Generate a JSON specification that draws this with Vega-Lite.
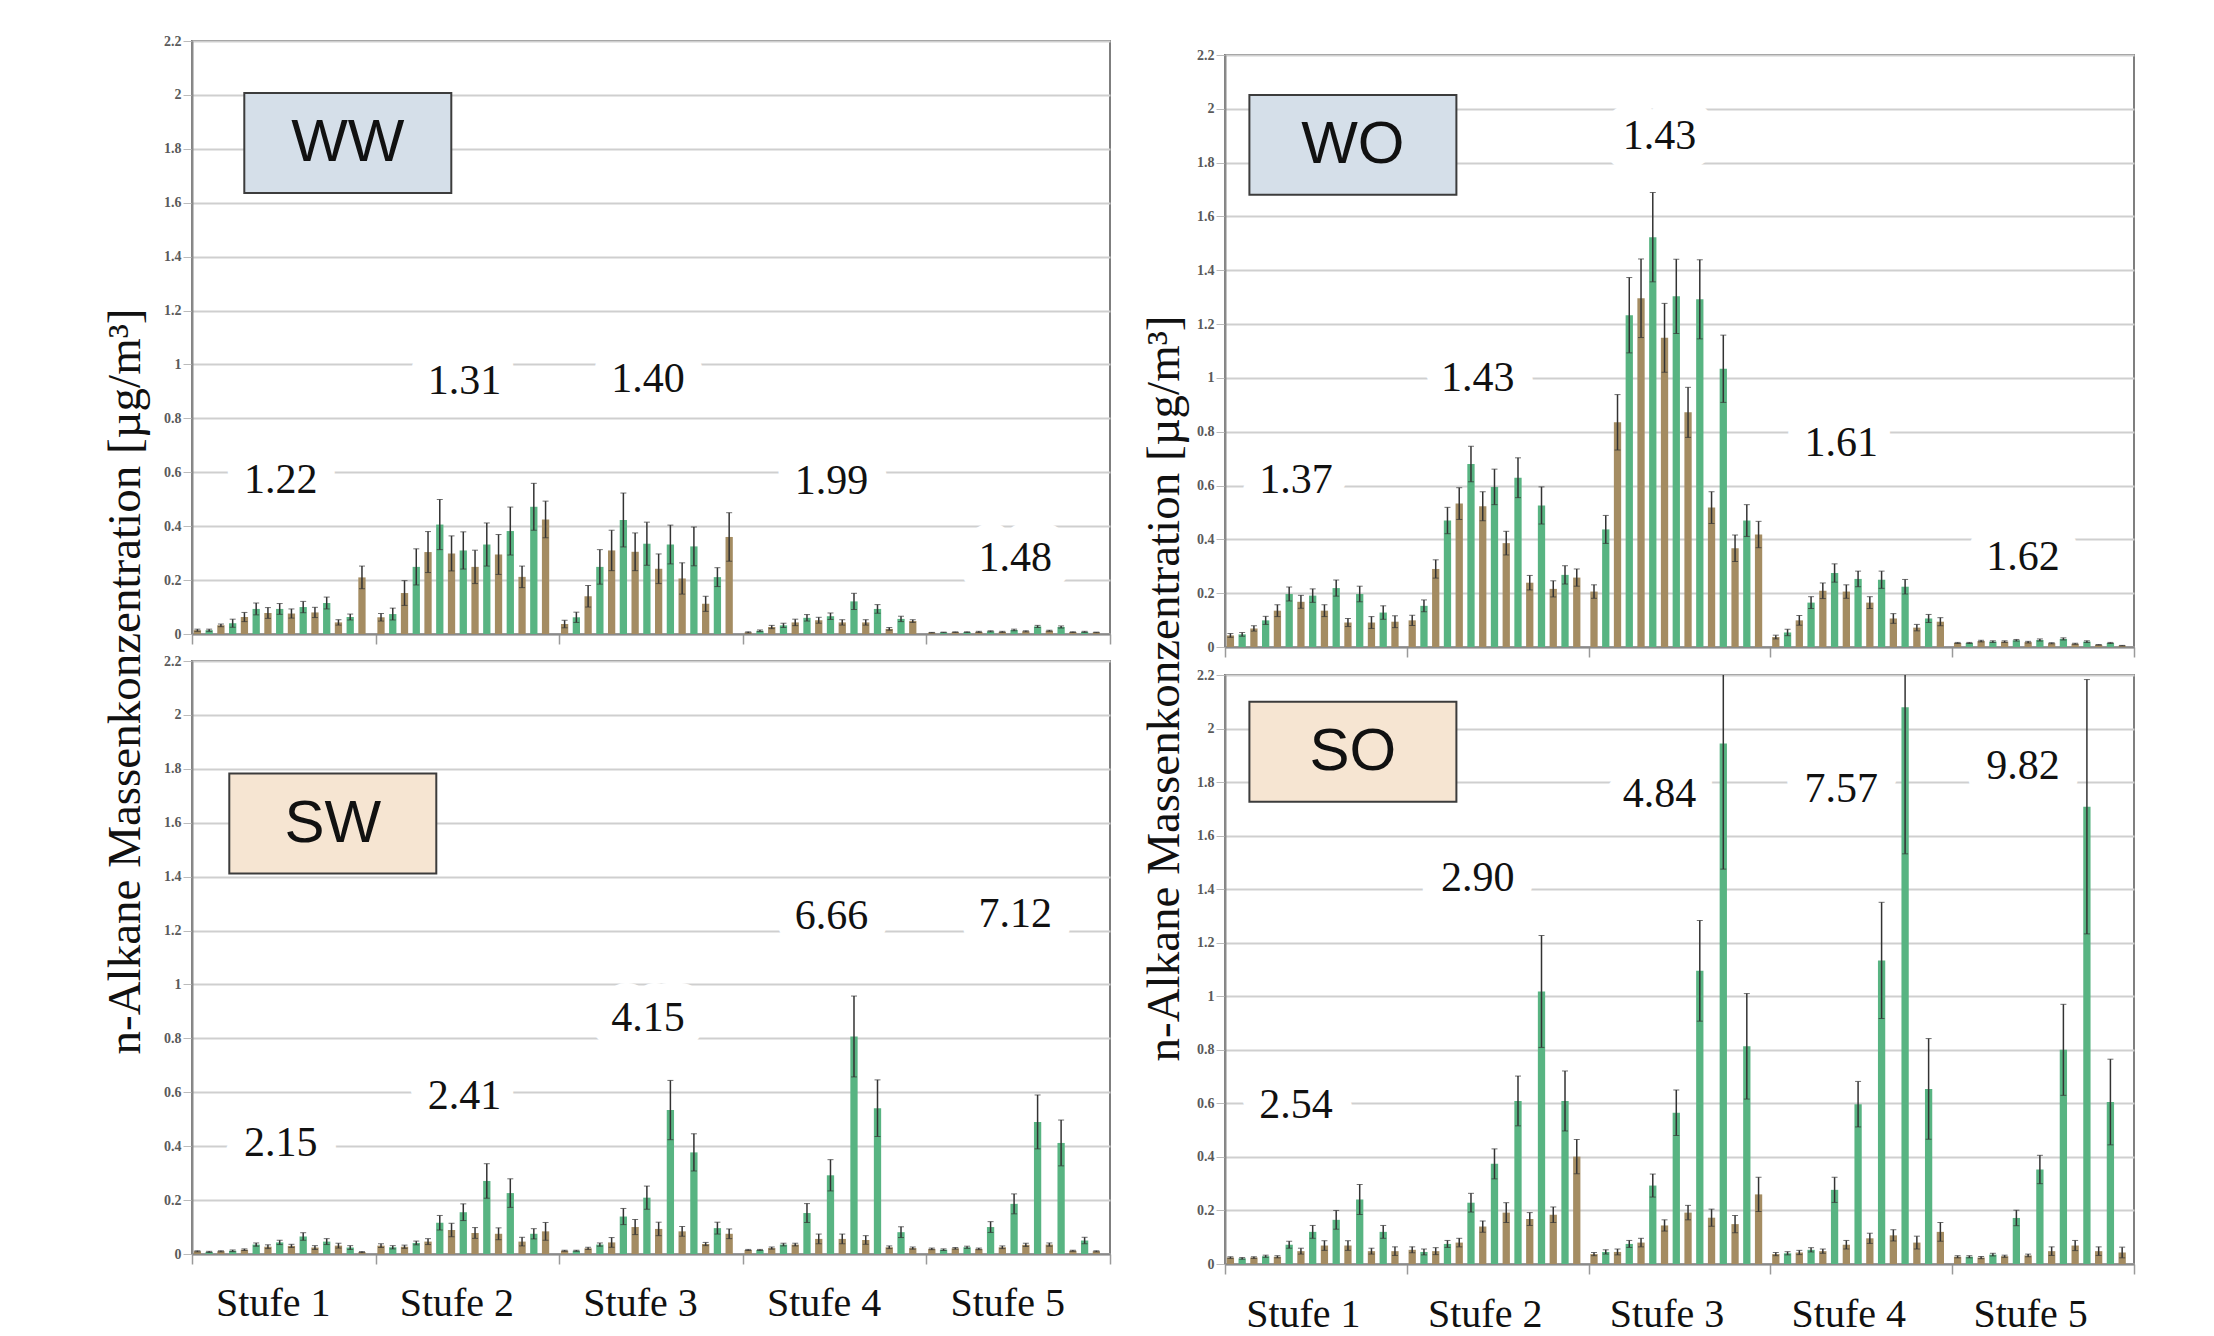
{
  "$schema": "https://vega.github.io/schema/vega-lite/v6.json",
  "padding": {"left": 100, "top": 5, "right": 10, "bottom": 5},
  "spacing": 27,
  "config": {
    "view": {"stroke": "#7f7f7f", "strokeWidth": 2}
  },
  "datasets": {
    "alkanes": [
      {"panel":"WW","Stufe":"Stufe 1","C":18,"value":0.014,"sd":0.004},{"panel":"WW","Stufe":"Stufe 1","C":19,"value":0.014,"sd":0.004},{"panel":"WW","Stufe":"Stufe 1","C":20,"value":0.032,"sd":0.005},{"panel":"WW","Stufe":"Stufe 1","C":21,"value":0.04,"sd":0.015},{"panel":"WW","Stufe":"Stufe 1","C":22,"value":0.063,"sd":0.017},{"panel":"WW","Stufe":"Stufe 1","C":23,"value":0.093,"sd":0.022},{"panel":"WW","Stufe":"Stufe 1","C":24,"value":0.078,"sd":0.02},{"panel":"WW","Stufe":"Stufe 1","C":25,"value":0.093,"sd":0.02},{"panel":"WW","Stufe":"Stufe 1","C":26,"value":0.076,"sd":0.017},{"panel":"WW","Stufe":"Stufe 1","C":27,"value":0.1,"sd":0.021},{"panel":"WW","Stufe":"Stufe 1","C":28,"value":0.08,"sd":0.019},{"panel":"WW","Stufe":"Stufe 1","C":29,"value":0.115,"sd":0.022},{"panel":"WW","Stufe":"Stufe 1","C":30,"value":0.043,"sd":0.01},{"panel":"WW","Stufe":"Stufe 1","C":31,"value":0.063,"sd":0.011},{"panel":"WW","Stufe":"Stufe 1","C":32,"value":0.21,"sd":0.042},
      {"panel":"WW","Stufe":"Stufe 2","C":18,"value":0.062,"sd":0.014},{"panel":"WW","Stufe":"Stufe 2","C":19,"value":0.074,"sd":0.022},{"panel":"WW","Stufe":"Stufe 2","C":20,"value":0.152,"sd":0.046},{"panel":"WW","Stufe":"Stufe 2","C":21,"value":0.249,"sd":0.067},{"panel":"WW","Stufe":"Stufe 2","C":22,"value":0.304,"sd":0.076},{"panel":"WW","Stufe":"Stufe 2","C":23,"value":0.406,"sd":0.093},{"panel":"WW","Stufe":"Stufe 2","C":24,"value":0.299,"sd":0.065},{"panel":"WW","Stufe":"Stufe 2","C":25,"value":0.31,"sd":0.069},{"panel":"WW","Stufe":"Stufe 2","C":26,"value":0.249,"sd":0.062},{"panel":"WW","Stufe":"Stufe 2","C":27,"value":0.332,"sd":0.08},{"panel":"WW","Stufe":"Stufe 2","C":28,"value":0.295,"sd":0.074},{"panel":"WW","Stufe":"Stufe 2","C":29,"value":0.382,"sd":0.089},{"panel":"WW","Stufe":"Stufe 2","C":30,"value":0.212,"sd":0.04},{"panel":"WW","Stufe":"Stufe 2","C":31,"value":0.472,"sd":0.087},{"panel":"WW","Stufe":"Stufe 2","C":32,"value":0.425,"sd":0.068},
      {"panel":"WW","Stufe":"Stufe 3","C":18,"value":0.037,"sd":0.014},{"panel":"WW","Stufe":"Stufe 3","C":19,"value":0.062,"sd":0.019},{"panel":"WW","Stufe":"Stufe 3","C":20,"value":0.14,"sd":0.04},{"panel":"WW","Stufe":"Stufe 3","C":21,"value":0.249,"sd":0.064},{"panel":"WW","Stufe":"Stufe 3","C":22,"value":0.31,"sd":0.075},{"panel":"WW","Stufe":"Stufe 3","C":23,"value":0.423,"sd":0.1},{"panel":"WW","Stufe":"Stufe 3","C":24,"value":0.305,"sd":0.07},{"panel":"WW","Stufe":"Stufe 3","C":25,"value":0.335,"sd":0.08},{"panel":"WW","Stufe":"Stufe 3","C":26,"value":0.242,"sd":0.055},{"panel":"WW","Stufe":"Stufe 3","C":27,"value":0.332,"sd":0.072},{"panel":"WW","Stufe":"Stufe 3","C":28,"value":0.206,"sd":0.058},{"panel":"WW","Stufe":"Stufe 3","C":29,"value":0.325,"sd":0.072},{"panel":"WW","Stufe":"Stufe 3","C":30,"value":0.112,"sd":0.028},{"panel":"WW","Stufe":"Stufe 3","C":31,"value":0.211,"sd":0.035},{"panel":"WW","Stufe":"Stufe 3","C":32,"value":0.36,"sd":0.09},
      {"panel":"WW","Stufe":"Stufe 4","C":18,"value":0.006,"sd":0.002},{"panel":"WW","Stufe":"Stufe 4","C":19,"value":0.012,"sd":0.003},{"panel":"WW","Stufe":"Stufe 4","C":20,"value":0.026,"sd":0.006},{"panel":"WW","Stufe":"Stufe 4","C":21,"value":0.032,"sd":0.008},{"panel":"WW","Stufe":"Stufe 4","C":22,"value":0.043,"sd":0.012},{"panel":"WW","Stufe":"Stufe 4","C":23,"value":0.06,"sd":0.012},{"panel":"WW","Stufe":"Stufe 4","C":24,"value":0.051,"sd":0.011},{"panel":"WW","Stufe":"Stufe 4","C":25,"value":0.066,"sd":0.012},{"panel":"WW","Stufe":"Stufe 4","C":26,"value":0.043,"sd":0.01},{"panel":"WW","Stufe":"Stufe 4","C":27,"value":0.121,"sd":0.03},{"panel":"WW","Stufe":"Stufe 4","C":28,"value":0.043,"sd":0.01},{"panel":"WW","Stufe":"Stufe 4","C":29,"value":0.093,"sd":0.016},{"panel":"WW","Stufe":"Stufe 4","C":30,"value":0.019,"sd":0.005},{"panel":"WW","Stufe":"Stufe 4","C":31,"value":0.056,"sd":0.01},{"panel":"WW","Stufe":"Stufe 4","C":32,"value":0.048,"sd":0.005},
      {"panel":"WW","Stufe":"Stufe 5","C":18,"value":0.005,"sd":0.001},{"panel":"WW","Stufe":"Stufe 5","C":19,"value":0.006,"sd":0.001},{"panel":"WW","Stufe":"Stufe 5","C":20,"value":0.007,"sd":0.001},{"panel":"WW","Stufe":"Stufe 5","C":21,"value":0.007,"sd":0.001},{"panel":"WW","Stufe":"Stufe 5","C":22,"value":0.008,"sd":0.002},{"panel":"WW","Stufe":"Stufe 5","C":23,"value":0.01,"sd":0.002},{"panel":"WW","Stufe":"Stufe 5","C":24,"value":0.008,"sd":0.002},{"panel":"WW","Stufe":"Stufe 5","C":25,"value":0.015,"sd":0.003},{"panel":"WW","Stufe":"Stufe 5","C":26,"value":0.01,"sd":0.002},{"panel":"WW","Stufe":"Stufe 5","C":27,"value":0.028,"sd":0.004},{"panel":"WW","Stufe":"Stufe 5","C":28,"value":0.012,"sd":0.002},{"panel":"WW","Stufe":"Stufe 5","C":29,"value":0.026,"sd":0.004},{"panel":"WW","Stufe":"Stufe 5","C":30,"value":0.007,"sd":0.001},{"panel":"WW","Stufe":"Stufe 5","C":31,"value":0.008,"sd":0.002},{"panel":"WW","Stufe":"Stufe 5","C":32,"value":0.006,"sd":0.001},

      {"panel":"SW","Stufe":"Stufe 1","C":18,"value":0.01,"sd":0.002},{"panel":"SW","Stufe":"Stufe 1","C":19,"value":0.008,"sd":0.002},{"panel":"SW","Stufe":"Stufe 1","C":20,"value":0.01,"sd":0.002},{"panel":"SW","Stufe":"Stufe 1","C":21,"value":0.012,"sd":0.003},{"panel":"SW","Stufe":"Stufe 1","C":22,"value":0.016,"sd":0.003},{"panel":"SW","Stufe":"Stufe 1","C":23,"value":0.035,"sd":0.006},{"panel":"SW","Stufe":"Stufe 1","C":24,"value":0.027,"sd":0.007},{"panel":"SW","Stufe":"Stufe 1","C":25,"value":0.043,"sd":0.008},{"panel":"SW","Stufe":"Stufe 1","C":26,"value":0.03,"sd":0.006},{"panel":"SW","Stufe":"Stufe 1","C":27,"value":0.065,"sd":0.014},{"panel":"SW","Stufe":"Stufe 1","C":28,"value":0.024,"sd":0.007},{"panel":"SW","Stufe":"Stufe 1","C":29,"value":0.046,"sd":0.011},{"panel":"SW","Stufe":"Stufe 1","C":30,"value":0.031,"sd":0.009},{"panel":"SW","Stufe":"Stufe 1","C":31,"value":0.024,"sd":0.007},{"panel":"SW","Stufe":"Stufe 1","C":32,"value":0.007,"sd":0.002},
      {"panel":"SW","Stufe":"Stufe 2","C":18,"value":0.031,"sd":0.007},{"panel":"SW","Stufe":"Stufe 2","C":19,"value":0.025,"sd":0.006},{"panel":"SW","Stufe":"Stufe 2","C":20,"value":0.027,"sd":0.006},{"panel":"SW","Stufe":"Stufe 2","C":21,"value":0.041,"sd":0.007},{"panel":"SW","Stufe":"Stufe 2","C":22,"value":0.046,"sd":0.011},{"panel":"SW","Stufe":"Stufe 2","C":23,"value":0.116,"sd":0.027},{"panel":"SW","Stufe":"Stufe 2","C":24,"value":0.089,"sd":0.025},{"panel":"SW","Stufe":"Stufe 2","C":25,"value":0.155,"sd":0.031},{"panel":"SW","Stufe":"Stufe 2","C":26,"value":0.078,"sd":0.02},{"panel":"SW","Stufe":"Stufe 2","C":27,"value":0.271,"sd":0.064},{"panel":"SW","Stufe":"Stufe 2","C":28,"value":0.075,"sd":0.022},{"panel":"SW","Stufe":"Stufe 2","C":29,"value":0.226,"sd":0.053},{"panel":"SW","Stufe":"Stufe 2","C":30,"value":0.046,"sd":0.016},{"panel":"SW","Stufe":"Stufe 2","C":31,"value":0.075,"sd":0.019},{"panel":"SW","Stufe":"Stufe 2","C":32,"value":0.084,"sd":0.033},
      {"panel":"SW","Stufe":"Stufe 3","C":18,"value":0.012,"sd":0.002},{"panel":"SW","Stufe":"Stufe 3","C":19,"value":0.012,"sd":0.002},{"panel":"SW","Stufe":"Stufe 3","C":20,"value":0.021,"sd":0.004},{"panel":"SW","Stufe":"Stufe 3","C":21,"value":0.035,"sd":0.006},{"panel":"SW","Stufe":"Stufe 3","C":22,"value":0.043,"sd":0.018},{"panel":"SW","Stufe":"Stufe 3","C":23,"value":0.139,"sd":0.03},{"panel":"SW","Stufe":"Stufe 3","C":24,"value":0.1,"sd":0.028},{"panel":"SW","Stufe":"Stufe 3","C":25,"value":0.209,"sd":0.043},{"panel":"SW","Stufe":"Stufe 3","C":26,"value":0.093,"sd":0.025},{"panel":"SW","Stufe":"Stufe 3","C":27,"value":0.534,"sd":0.11},{"panel":"SW","Stufe":"Stufe 3","C":28,"value":0.084,"sd":0.018},{"panel":"SW","Stufe":"Stufe 3","C":29,"value":0.377,"sd":0.069},{"panel":"SW","Stufe":"Stufe 3","C":30,"value":0.037,"sd":0.006},{"panel":"SW","Stufe":"Stufe 3","C":31,"value":0.096,"sd":0.022},{"panel":"SW","Stufe":"Stufe 3","C":32,"value":0.075,"sd":0.018},
      {"panel":"SW","Stufe":"Stufe 4","C":18,"value":0.015,"sd":0.002},{"panel":"SW","Stufe":"Stufe 4","C":19,"value":0.015,"sd":0.002},{"panel":"SW","Stufe":"Stufe 4","C":20,"value":0.022,"sd":0.004},{"panel":"SW","Stufe":"Stufe 4","C":21,"value":0.035,"sd":0.005},{"panel":"SW","Stufe":"Stufe 4","C":22,"value":0.035,"sd":0.005},{"panel":"SW","Stufe":"Stufe 4","C":23,"value":0.152,"sd":0.035},{"panel":"SW","Stufe":"Stufe 4","C":24,"value":0.056,"sd":0.018},{"panel":"SW","Stufe":"Stufe 4","C":25,"value":0.292,"sd":0.058},{"panel":"SW","Stufe":"Stufe 4","C":26,"value":0.056,"sd":0.018},{"panel":"SW","Stufe":"Stufe 4","C":27,"value":0.807,"sd":0.15},{"panel":"SW","Stufe":"Stufe 4","C":28,"value":0.052,"sd":0.016},{"panel":"SW","Stufe":"Stufe 4","C":29,"value":0.541,"sd":0.105},{"panel":"SW","Stufe":"Stufe 4","C":30,"value":0.025,"sd":0.005},{"panel":"SW","Stufe":"Stufe 4","C":31,"value":0.081,"sd":0.02},{"panel":"SW","Stufe":"Stufe 4","C":32,"value":0.022,"sd":0.004},
      {"panel":"SW","Stufe":"Stufe 5","C":18,"value":0.019,"sd":0.003},{"panel":"SW","Stufe":"Stufe 5","C":19,"value":0.016,"sd":0.003},{"panel":"SW","Stufe":"Stufe 5","C":20,"value":0.021,"sd":0.003},{"panel":"SW","Stufe":"Stufe 5","C":21,"value":0.025,"sd":0.004},{"panel":"SW","Stufe":"Stufe 5","C":22,"value":0.019,"sd":0.003},{"panel":"SW","Stufe":"Stufe 5","C":23,"value":0.1,"sd":0.02},{"panel":"SW","Stufe":"Stufe 5","C":24,"value":0.025,"sd":0.005},{"panel":"SW","Stufe":"Stufe 5","C":25,"value":0.186,"sd":0.037},{"panel":"SW","Stufe":"Stufe 5","C":26,"value":0.034,"sd":0.006},{"panel":"SW","Stufe":"Stufe 5","C":27,"value":0.49,"sd":0.1},{"panel":"SW","Stufe":"Stufe 5","C":28,"value":0.035,"sd":0.006},{"panel":"SW","Stufe":"Stufe 5","C":29,"value":0.412,"sd":0.085},{"panel":"SW","Stufe":"Stufe 5","C":30,"value":0.012,"sd":0.002},{"panel":"SW","Stufe":"Stufe 5","C":31,"value":0.05,"sd":0.012},{"panel":"SW","Stufe":"Stufe 5","C":32,"value":0.01,"sd":0.002},

      {"panel":"WO","Stufe":"Stufe 1","C":18,"value":0.043,"sd":0.007},{"panel":"WO","Stufe":"Stufe 1","C":19,"value":0.047,"sd":0.007},{"panel":"WO","Stufe":"Stufe 1","C":20,"value":0.069,"sd":0.01},{"panel":"WO","Stufe":"Stufe 1","C":21,"value":0.099,"sd":0.015},{"panel":"WO","Stufe":"Stufe 1","C":22,"value":0.135,"sd":0.022},{"panel":"WO","Stufe":"Stufe 1","C":23,"value":0.197,"sd":0.026},{"panel":"WO","Stufe":"Stufe 1","C":24,"value":0.168,"sd":0.024},{"panel":"WO","Stufe":"Stufe 1","C":25,"value":0.191,"sd":0.025},{"panel":"WO","Stufe":"Stufe 1","C":26,"value":0.135,"sd":0.022},{"panel":"WO","Stufe":"Stufe 1","C":27,"value":0.219,"sd":0.03},{"panel":"WO","Stufe":"Stufe 1","C":28,"value":0.091,"sd":0.015},{"panel":"WO","Stufe":"Stufe 1","C":29,"value":0.197,"sd":0.029},{"panel":"WO","Stufe":"Stufe 1","C":30,"value":0.091,"sd":0.022},{"panel":"WO","Stufe":"Stufe 1","C":31,"value":0.128,"sd":0.025},{"panel":"WO","Stufe":"Stufe 1","C":32,"value":0.094,"sd":0.022},
      {"panel":"WO","Stufe":"Stufe 2","C":18,"value":0.099,"sd":0.019},{"panel":"WO","Stufe":"Stufe 2","C":19,"value":0.153,"sd":0.022},{"panel":"WO","Stufe":"Stufe 2","C":20,"value":0.29,"sd":0.034},{"panel":"WO","Stufe":"Stufe 2","C":21,"value":0.47,"sd":0.049},{"panel":"WO","Stufe":"Stufe 2","C":22,"value":0.533,"sd":0.059},{"panel":"WO","Stufe":"Stufe 2","C":23,"value":0.68,"sd":0.066},{"panel":"WO","Stufe":"Stufe 2","C":24,"value":0.523,"sd":0.054},{"panel":"WO","Stufe":"Stufe 2","C":25,"value":0.595,"sd":0.066},{"panel":"WO","Stufe":"Stufe 2","C":26,"value":0.386,"sd":0.044},{"panel":"WO","Stufe":"Stufe 2","C":27,"value":0.629,"sd":0.074},{"panel":"WO","Stufe":"Stufe 2","C":28,"value":0.239,"sd":0.027},{"panel":"WO","Stufe":"Stufe 2","C":29,"value":0.526,"sd":0.069},{"panel":"WO","Stufe":"Stufe 2","C":30,"value":0.216,"sd":0.03},{"panel":"WO","Stufe":"Stufe 2","C":31,"value":0.268,"sd":0.034},{"panel":"WO","Stufe":"Stufe 2","C":32,"value":0.258,"sd":0.032},
      {"panel":"WO","Stufe":"Stufe 3","C":18,"value":0.206,"sd":0.025},{"panel":"WO","Stufe":"Stufe 3","C":19,"value":0.437,"sd":0.052},{"panel":"WO","Stufe":"Stufe 3","C":20,"value":0.835,"sd":0.103},{"panel":"WO","Stufe":"Stufe 3","C":21,"value":1.233,"sd":0.14},{"panel":"WO","Stufe":"Stufe 3","C":22,"value":1.296,"sd":0.146},{"panel":"WO","Stufe":"Stufe 3","C":23,"value":1.523,"sd":0.166},{"panel":"WO","Stufe":"Stufe 3","C":24,"value":1.149,"sd":0.128},{"panel":"WO","Stufe":"Stufe 3","C":25,"value":1.303,"sd":0.138},{"panel":"WO","Stufe":"Stufe 3","C":26,"value":0.872,"sd":0.093},{"panel":"WO","Stufe":"Stufe 3","C":27,"value":1.292,"sd":0.147},{"panel":"WO","Stufe":"Stufe 3","C":28,"value":0.518,"sd":0.059},{"panel":"WO","Stufe":"Stufe 3","C":29,"value":1.034,"sd":0.125},{"panel":"WO","Stufe":"Stufe 3","C":30,"value":0.367,"sd":0.049},{"panel":"WO","Stufe":"Stufe 3","C":31,"value":0.47,"sd":0.059},{"panel":"WO","Stufe":"Stufe 3","C":32,"value":0.418,"sd":0.049},
      {"panel":"WO","Stufe":"Stufe 4","C":18,"value":0.037,"sd":0.007},{"panel":"WO","Stufe":"Stufe 4","C":19,"value":0.054,"sd":0.012},{"panel":"WO","Stufe":"Stufe 4","C":20,"value":0.099,"sd":0.018},{"panel":"WO","Stufe":"Stufe 4","C":21,"value":0.165,"sd":0.022},{"panel":"WO","Stufe":"Stufe 4","C":22,"value":0.209,"sd":0.029},{"panel":"WO","Stufe":"Stufe 4","C":23,"value":0.275,"sd":0.034},{"panel":"WO","Stufe":"Stufe 4","C":24,"value":0.206,"sd":0.025},{"panel":"WO","Stufe":"Stufe 4","C":25,"value":0.253,"sd":0.029},{"panel":"WO","Stufe":"Stufe 4","C":26,"value":0.165,"sd":0.022},{"panel":"WO","Stufe":"Stufe 4","C":27,"value":0.25,"sd":0.032},{"panel":"WO","Stufe":"Stufe 4","C":28,"value":0.106,"sd":0.018},{"panel":"WO","Stufe":"Stufe 4","C":29,"value":0.224,"sd":0.027},{"panel":"WO","Stufe":"Stufe 4","C":30,"value":0.072,"sd":0.012},{"panel":"WO","Stufe":"Stufe 4","C":31,"value":0.106,"sd":0.015},{"panel":"WO","Stufe":"Stufe 4","C":32,"value":0.094,"sd":0.015},
      {"panel":"WO","Stufe":"Stufe 5","C":18,"value":0.015,"sd":0.002},{"panel":"WO","Stufe":"Stufe 5","C":19,"value":0.015,"sd":0.002},{"panel":"WO","Stufe":"Stufe 5","C":20,"value":0.022,"sd":0.003},{"panel":"WO","Stufe":"Stufe 5","C":21,"value":0.02,"sd":0.003},{"panel":"WO","Stufe":"Stufe 5","C":22,"value":0.02,"sd":0.003},{"panel":"WO","Stufe":"Stufe 5","C":23,"value":0.025,"sd":0.003},{"panel":"WO","Stufe":"Stufe 5","C":24,"value":0.018,"sd":0.003},{"panel":"WO","Stufe":"Stufe 5","C":25,"value":0.026,"sd":0.004},{"panel":"WO","Stufe":"Stufe 5","C":26,"value":0.014,"sd":0.002},{"panel":"WO","Stufe":"Stufe 5","C":27,"value":0.03,"sd":0.004},{"panel":"WO","Stufe":"Stufe 5","C":28,"value":0.012,"sd":0.002},{"panel":"WO","Stufe":"Stufe 5","C":29,"value":0.02,"sd":0.003},{"panel":"WO","Stufe":"Stufe 5","C":30,"value":0.008,"sd":0.001},{"panel":"WO","Stufe":"Stufe 5","C":31,"value":0.015,"sd":0.002},{"panel":"WO","Stufe":"Stufe 5","C":32,"value":0.005,"sd":0.001},

      {"panel":"SO","Stufe":"Stufe 1","C":18,"value":0.024,"sd":0.003},{"panel":"SO","Stufe":"Stufe 1","C":19,"value":0.021,"sd":0.003},{"panel":"SO","Stufe":"Stufe 1","C":20,"value":0.024,"sd":0.003},{"panel":"SO","Stufe":"Stufe 1","C":21,"value":0.029,"sd":0.004},{"panel":"SO","Stufe":"Stufe 1","C":22,"value":0.027,"sd":0.004},{"panel":"SO","Stufe":"Stufe 1","C":23,"value":0.072,"sd":0.013},{"panel":"SO","Stufe":"Stufe 1","C":24,"value":0.048,"sd":0.011},{"panel":"SO","Stufe":"Stufe 1","C":25,"value":0.12,"sd":0.024},{"panel":"SO","Stufe":"Stufe 1","C":26,"value":0.069,"sd":0.018},{"panel":"SO","Stufe":"Stufe 1","C":27,"value":0.165,"sd":0.035},{"panel":"SO","Stufe":"Stufe 1","C":28,"value":0.069,"sd":0.018},{"panel":"SO","Stufe":"Stufe 1","C":29,"value":0.241,"sd":0.056},{"panel":"SO","Stufe":"Stufe 1","C":30,"value":0.048,"sd":0.011},{"panel":"SO","Stufe":"Stufe 1","C":31,"value":0.12,"sd":0.024},{"panel":"SO","Stufe":"Stufe 1","C":32,"value":0.048,"sd":0.016},
      {"panel":"SO","Stufe":"Stufe 2","C":18,"value":0.053,"sd":0.011},{"panel":"SO","Stufe":"Stufe 2","C":19,"value":0.045,"sd":0.011},{"panel":"SO","Stufe":"Stufe 2","C":20,"value":0.048,"sd":0.013},{"panel":"SO","Stufe":"Stufe 2","C":21,"value":0.075,"sd":0.013},{"panel":"SO","Stufe":"Stufe 2","C":22,"value":0.08,"sd":0.016},{"panel":"SO","Stufe":"Stufe 2","C":23,"value":0.229,"sd":0.035},{"panel":"SO","Stufe":"Stufe 2","C":24,"value":0.14,"sd":0.021},{"panel":"SO","Stufe":"Stufe 2","C":25,"value":0.374,"sd":0.056},{"panel":"SO","Stufe":"Stufe 2","C":26,"value":0.192,"sd":0.037},{"panel":"SO","Stufe":"Stufe 2","C":27,"value":0.609,"sd":0.093},{"panel":"SO","Stufe":"Stufe 2","C":28,"value":0.168,"sd":0.024},{"panel":"SO","Stufe":"Stufe 2","C":29,"value":1.018,"sd":0.209},{"panel":"SO","Stufe":"Stufe 2","C":30,"value":0.184,"sd":0.029},{"panel":"SO","Stufe":"Stufe 2","C":31,"value":0.609,"sd":0.112},{"panel":"SO","Stufe":"Stufe 2","C":32,"value":0.401,"sd":0.064},
      {"panel":"SO","Stufe":"Stufe 3","C":18,"value":0.037,"sd":0.006},{"panel":"SO","Stufe":"Stufe 3","C":19,"value":0.045,"sd":0.008},{"panel":"SO","Stufe":"Stufe 3","C":20,"value":0.045,"sd":0.011},{"panel":"SO","Stufe":"Stufe 3","C":21,"value":0.075,"sd":0.013},{"panel":"SO","Stufe":"Stufe 3","C":22,"value":0.08,"sd":0.016},{"panel":"SO","Stufe":"Stufe 3","C":23,"value":0.293,"sd":0.043},{"panel":"SO","Stufe":"Stufe 3","C":24,"value":0.144,"sd":0.021},{"panel":"SO","Stufe":"Stufe 3","C":25,"value":0.565,"sd":0.085},{"panel":"SO","Stufe":"Stufe 3","C":26,"value":0.192,"sd":0.027},{"panel":"SO","Stufe":"Stufe 3","C":27,"value":1.095,"sd":0.188},{"panel":"SO","Stufe":"Stufe 3","C":28,"value":0.173,"sd":0.032},{"panel":"SO","Stufe":"Stufe 3","C":29,"value":1.944,"sd":0.469},{"panel":"SO","Stufe":"Stufe 3","C":30,"value":0.149,"sd":0.032},{"panel":"SO","Stufe":"Stufe 3","C":31,"value":0.813,"sd":0.197},{"panel":"SO","Stufe":"Stufe 3","C":32,"value":0.26,"sd":0.064},
      {"panel":"SO","Stufe":"Stufe 4","C":18,"value":0.037,"sd":0.006},{"panel":"SO","Stufe":"Stufe 4","C":19,"value":0.04,"sd":0.006},{"panel":"SO","Stufe":"Stufe 4","C":20,"value":0.043,"sd":0.008},{"panel":"SO","Stufe":"Stufe 4","C":21,"value":0.053,"sd":0.008},{"panel":"SO","Stufe":"Stufe 4","C":22,"value":0.048,"sd":0.008},{"panel":"SO","Stufe":"Stufe 4","C":23,"value":0.277,"sd":0.047},{"panel":"SO","Stufe":"Stufe 4","C":24,"value":0.072,"sd":0.016},{"panel":"SO","Stufe":"Stufe 4","C":25,"value":0.597,"sd":0.085},{"panel":"SO","Stufe":"Stufe 4","C":26,"value":0.096,"sd":0.019},{"panel":"SO","Stufe":"Stufe 4","C":27,"value":1.134,"sd":0.217},{"panel":"SO","Stufe":"Stufe 4","C":28,"value":0.107,"sd":0.021},{"panel":"SO","Stufe":"Stufe 4","C":29,"value":2.08,"sd":0.548},{"panel":"SO","Stufe":"Stufe 4","C":30,"value":0.08,"sd":0.024},{"panel":"SO","Stufe":"Stufe 4","C":31,"value":0.654,"sd":0.188},{"panel":"SO","Stufe":"Stufe 4","C":32,"value":0.12,"sd":0.035},
      {"panel":"SO","Stufe":"Stufe 5","C":18,"value":0.027,"sd":0.004},{"panel":"SO","Stufe":"Stufe 5","C":19,"value":0.027,"sd":0.004},{"panel":"SO","Stufe":"Stufe 5","C":20,"value":0.024,"sd":0.004},{"panel":"SO","Stufe":"Stufe 5","C":21,"value":0.035,"sd":0.005},{"panel":"SO","Stufe":"Stufe 5","C":22,"value":0.029,"sd":0.004},{"panel":"SO","Stufe":"Stufe 5","C":23,"value":0.172,"sd":0.029},{"panel":"SO","Stufe":"Stufe 5","C":24,"value":0.032,"sd":0.005},{"panel":"SO","Stufe":"Stufe 5","C":25,"value":0.353,"sd":0.053},{"panel":"SO","Stufe":"Stufe 5","C":26,"value":0.048,"sd":0.016},{"panel":"SO","Stufe":"Stufe 5","C":27,"value":0.8,"sd":0.17},{"panel":"SO","Stufe":"Stufe 5","C":28,"value":0.069,"sd":0.019},{"panel":"SO","Stufe":"Stufe 5","C":29,"value":1.708,"sd":0.475},{"panel":"SO","Stufe":"Stufe 5","C":30,"value":0.048,"sd":0.016},{"panel":"SO","Stufe":"Stufe 5","C":31,"value":0.605,"sd":0.16},{"panel":"SO","Stufe":"Stufe 5","C":32,"value":0.043,"sd":0.02}
    ],
    "totals": [
      {"panel":"WW","Stufe":"Stufe 1","total":1.22,"labelY":0.57},{"panel":"WW","Stufe":"Stufe 2","total":1.31,"labelY":0.94},{"panel":"WW","Stufe":"Stufe 3","total":1.40,"labelY":0.947},{"panel":"WW","Stufe":"Stufe 4","total":1.99,"labelY":0.567},{"panel":"WW","Stufe":"Stufe 5","total":1.48,"labelY":0.282},
      {"panel":"SW","Stufe":"Stufe 1","total":2.15,"labelY":0.41},{"panel":"SW","Stufe":"Stufe 2","total":2.41,"labelY":0.585},{"panel":"SW","Stufe":"Stufe 3","total":4.15,"labelY":0.877},{"panel":"SW","Stufe":"Stufe 4","total":6.66,"labelY":1.254},{"panel":"SW","Stufe":"Stufe 5","total":7.12,"labelY":1.26},
      {"panel":"WO","Stufe":"Stufe 1","total":1.37,"labelY":0.62},{"panel":"WO","Stufe":"Stufe 2","total":1.43,"labelY":1.0},{"panel":"WO","Stufe":"Stufe 3","total":1.43,"labelY":1.9},{"panel":"WO","Stufe":"Stufe 4","total":1.61,"labelY":0.757},{"panel":"WO","Stufe":"Stufe 5","total":1.62,"labelY":0.334},
      {"panel":"SO","Stufe":"Stufe 1","total":2.54,"labelY":0.593},{"panel":"SO","Stufe":"Stufe 2","total":2.90,"labelY":1.443},{"panel":"SO","Stufe":"Stufe 3","total":4.84,"labelY":1.756},{"panel":"SO","Stufe":"Stufe 4","total":7.57,"labelY":1.775},{"panel":"SO","Stufe":"Stufe 5","total":9.82,"labelY":1.86}
    ]
  },
  "hconcat": [
    {
      "bounds": "flush",
      "spacing": 27,
      "vconcat": [
        {"width": 918, "height": 9, "data": {"values": []}, "mark": "point", "view": {"stroke": null}},
        {
          "width": 918, "height": 593,
          "layer": [
            {
              "data": {"name": "alkanes"},
              "transform": [{"filter": {"field": "panel", "equal": "WW"}}],
              "mark": {"type": "bar"},
              "encoding": {
                "x": {"field": "Stufe", "type": "nominal", "title": null, "scale": {"paddingInner": 0, "paddingOuter": 0}, "axis": {"labels": false, "tickBand": "extent", "tickSize": 10, "tickColor": "#9a9a9a", "tickWidth": 1.5, "domainColor": "#8a8a8a", "domainWidth": 2, "grid": false}},
                "xOffset": {"field": "C", "type": "ordinal", "scale": {"paddingInner": 0.38, "paddingOuter": 0.5, "align": 0.15}},
                "y": {"field": "value", "type": "quantitative", "title": "n-Alkane Massenkonzentration [µg/m³]", "scale": {"domain": [0, 2.2], "nice": false}, "axis": {"values": [0,0.2,0.4,0.6,0.8,1,1.2,1.4,1.6,1.8,2,2.2], "format": "~g", "labelFont": "Liberation Serif", "labelFontSize": 14, "labelFontWeight": "bold", "labelColor": "#5a5a5a", "tickColor": "#bbbbbb", "tickSize": 9, "domainColor": "#8a8a8a", "domainWidth": 2, "grid": true, "gridColor": "#cfcfcf", "gridWidth": 2, "titleFont": "Liberation Serif", "titleFontSize": 47, "titleFontWeight": "normal", "titleColor": "#111111", "titleAngle": -90, "titleX": -67, "titleY": 640, "titleAlign": "center", "titleBaseline": "middle"}},
                "color": {"field": "C", "type": "ordinal", "scale": {"domain": [18,19,20,21,22,23,24,25,26,27,28,29,30,31,32], "range": ["#a48c62","#58b482","#a48c62","#58b482","#a48c62","#58b482","#a48c62","#58b482","#a48c62","#58b482","#a48c62","#58b482","#a48c62","#58b482","#a48c62"]}, "legend": null}
              }
            },
            {
              "data": {"name": "totals"},
              "transform": [{"filter": {"field": "panel", "equal": "WW"}}],
              "mark": {"type": "text", "font": "Liberation Serif", "fontSize": 42, "fill": "white", "stroke": "white", "strokeWidth": 40, "strokeJoin": "round", "baseline": "middle", "dx": -3},
              "encoding": {
                "x": {"field": "Stufe", "type": "nominal", "title": null},
                "y": {"field": "labelY", "type": "quantitative", "title": "n-Alkane Massenkonzentration [µg/m³]"},
                "text": {"field": "total", "type": "quantitative", "format": ".2f"}
              }
            },
            {
              "data": {"name": "alkanes"},
              "transform": [{"filter": {"field": "panel", "equal": "WW"}}],
              "mark": {"type": "errorbar", "ticks": {"size": 6}, "rule": {"strokeWidth": 1.5}, "color": "#333333", "clip": true},
              "encoding": {
                "x": {"field": "Stufe", "type": "nominal", "title": null},
                "xOffset": {"field": "C", "type": "ordinal"},
                "y": {"field": "value", "type": "quantitative", "title": "n-Alkane Massenkonzentration [µg/m³]"},
                "yError": {"field": "sd"}
              }
            },
            {
              "data": {"name": "totals"},
              "transform": [{"filter": {"field": "panel", "equal": "WW"}}],
              "mark": {"type": "text", "font": "Liberation Serif", "fontSize": 42, "fill": "#111111", "baseline": "middle", "dx": -3},
              "encoding": {
                "x": {"field": "Stufe", "type": "nominal", "title": null},
                "y": {"field": "labelY", "type": "quantitative", "title": "n-Alkane Massenkonzentration [µg/m³]"},
                "text": {"field": "total", "type": "quantitative", "format": ".2f"}
              }
            },
            {
              "data": {"values": [{}]},
              "mark": {"type": "point", "shape": "M-1,-0.483H1V0.483H-1Z", "size": 42849, "filled": true, "fill": "#d5dfe9", "stroke": "#3c3c3c", "strokeWidth": 2, "opacity": 1, "fillOpacity": 1, "xOffset": 64},
              "encoding": {"x": {"datum": "Stufe 1", "type": "nominal", "title": null}, "y": {"datum": 1.822, "type": "quantitative", "title": "n-Alkane Massenkonzentration [µg/m³]"}}
            },
            {
              "data": {"values": [{}]},
              "mark": {"type": "text", "text": "WW", "font": "Liberation Sans", "fontSize": 60, "fill": "#111111", "baseline": "middle", "xOffset": 64},
              "encoding": {"x": {"datum": "Stufe 1", "type": "nominal", "title": null}, "y": {"datum": 1.822, "type": "quantitative", "title": "n-Alkane Massenkonzentration [µg/m³]"}}
            }
          ]
        },
        {
          "width": 918, "height": 593,
          "layer": [
            {
              "data": {"name": "alkanes"},
              "transform": [{"filter": {"field": "panel", "equal": "SW"}}],
              "mark": {"type": "bar"},
              "encoding": {
                "x": {"field": "Stufe", "type": "nominal", "title": null, "scale": {"paddingInner": 0, "paddingOuter": 0}, "axis": {"labels": true, "labelAngle": 0, "labelFont": "Liberation Serif", "labelFontSize": 40, "labelColor": "#111111", "labelPadding": 19, "labelOffset": -11, "tickBand": "extent", "tickSize": 10, "tickColor": "#9a9a9a", "tickWidth": 1.5, "domainColor": "#8a8a8a", "domainWidth": 2, "grid": false}},
                "xOffset": {"field": "C", "type": "ordinal", "scale": {"paddingInner": 0.38, "paddingOuter": 0.5, "align": 0.15}},
                "y": {"field": "value", "type": "quantitative", "title": null, "scale": {"domain": [0, 2.2], "nice": false}, "axis": {"values": [0,0.2,0.4,0.6,0.8,1,1.2,1.4,1.6,1.8,2,2.2], "format": "~g", "labelFont": "Liberation Serif", "labelFontSize": 14, "labelFontWeight": "bold", "labelColor": "#5a5a5a", "tickColor": "#bbbbbb", "tickSize": 9, "domainColor": "#8a8a8a", "domainWidth": 2, "grid": true, "gridColor": "#cfcfcf", "gridWidth": 2}},
                "color": {"field": "C", "type": "ordinal", "scale": {"domain": [18,19,20,21,22,23,24,25,26,27,28,29,30,31,32], "range": ["#a48c62","#58b482","#a48c62","#58b482","#a48c62","#58b482","#a48c62","#58b482","#a48c62","#58b482","#a48c62","#58b482","#a48c62","#58b482","#a48c62"]}, "legend": null}
              }
            },
            {
              "data": {"name": "totals"},
              "transform": [{"filter": {"field": "panel", "equal": "SW"}}],
              "mark": {"type": "text", "font": "Liberation Serif", "fontSize": 42, "fill": "white", "stroke": "white", "strokeWidth": 40, "strokeJoin": "round", "baseline": "middle", "dx": -3},
              "encoding": {
                "x": {"field": "Stufe", "type": "nominal", "title": null},
                "y": {"field": "labelY", "type": "quantitative", "title": null},
                "text": {"field": "total", "type": "quantitative", "format": ".2f"}
              }
            },
            {
              "data": {"name": "alkanes"},
              "transform": [{"filter": {"field": "panel", "equal": "SW"}}],
              "mark": {"type": "errorbar", "ticks": {"size": 6}, "rule": {"strokeWidth": 1.5}, "color": "#333333", "clip": true},
              "encoding": {
                "x": {"field": "Stufe", "type": "nominal", "title": null},
                "xOffset": {"field": "C", "type": "ordinal"},
                "y": {"field": "value", "type": "quantitative", "title": null},
                "yError": {"field": "sd"}
              }
            },
            {
              "data": {"name": "totals"},
              "transform": [{"filter": {"field": "panel", "equal": "SW"}}],
              "mark": {"type": "text", "font": "Liberation Serif", "fontSize": 42, "fill": "#111111", "baseline": "middle", "dx": -3},
              "encoding": {
                "x": {"field": "Stufe", "type": "nominal", "title": null},
                "y": {"field": "labelY", "type": "quantitative", "title": null},
                "text": {"field": "total", "type": "quantitative", "format": ".2f"}
              }
            },
            {
              "data": {"values": [{}]},
              "mark": {"type": "point", "shape": "M-1,-0.483H1V0.483H-1Z", "size": 42849, "filled": true, "fill": "#f6e5d2", "stroke": "#3c3c3c", "strokeWidth": 2, "opacity": 1, "fillOpacity": 1, "xOffset": 49},
              "encoding": {"x": {"datum": "Stufe 1", "type": "nominal", "title": null}, "y": {"datum": 1.597, "type": "quantitative", "title": null}}
            },
            {
              "data": {"values": [{}]},
              "mark": {"type": "text", "text": "SW", "font": "Liberation Sans", "fontSize": 60, "fill": "#111111", "baseline": "middle", "xOffset": 49},
              "encoding": {"x": {"datum": "Stufe 1", "type": "nominal", "title": null}, "y": {"datum": 1.597, "type": "quantitative", "title": null}}
            }
          ]
        }
      ]
    },
    {
      "bounds": "flush",
      "spacing": 28,
      "vconcat": [
        {"width": 909, "height": 22, "data": {"values": []}, "mark": "point", "view": {"stroke": null}},
        {
          "width": 909, "height": 592,
          "layer": [
            {
              "data": {"name": "alkanes"},
              "transform": [{"filter": {"field": "panel", "equal": "WO"}}],
              "mark": {"type": "bar"},
              "encoding": {
                "x": {"field": "Stufe", "type": "nominal", "title": null, "scale": {"paddingInner": 0, "paddingOuter": 0}, "axis": {"labels": false, "tickBand": "extent", "tickSize": 10, "tickColor": "#9a9a9a", "tickWidth": 1.5, "domainColor": "#8a8a8a", "domainWidth": 2, "grid": false}},
                "xOffset": {"field": "C", "type": "ordinal", "scale": {"paddingInner": 0.38, "paddingOuter": 0.5, "align": 0.15}},
                "y": {"field": "value", "type": "quantitative", "title": "n-Alkane Massenkonzentration [µg/m³]", "scale": {"domain": [0, 2.2], "nice": false}, "axis": {"values": [0,0.2,0.4,0.6,0.8,1,1.2,1.4,1.6,1.8,2,2.2], "format": "~g", "labelFont": "Liberation Serif", "labelFontSize": 14, "labelFontWeight": "bold", "labelColor": "#5a5a5a", "tickColor": "#bbbbbb", "tickSize": 9, "domainColor": "#8a8a8a", "domainWidth": 2, "grid": true, "gridColor": "#cfcfcf", "gridWidth": 2, "titleFont": "Liberation Serif", "titleFontSize": 47, "titleFontWeight": "normal", "titleColor": "#111111", "titleAngle": -90, "titleX": -61, "titleY": 633, "titleAlign": "center", "titleBaseline": "middle"}},
                "color": {"field": "C", "type": "ordinal", "scale": {"domain": [18,19,20,21,22,23,24,25,26,27,28,29,30,31,32], "range": ["#a48c62","#58b482","#a48c62","#58b482","#a48c62","#58b482","#a48c62","#58b482","#a48c62","#58b482","#a48c62","#58b482","#a48c62","#58b482","#a48c62"]}, "legend": null}
              }
            },
            {
              "data": {"name": "totals"},
              "transform": [{"filter": {"field": "panel", "equal": "WO"}}],
              "mark": {"type": "text", "font": "Liberation Serif", "fontSize": 42, "fill": "white", "stroke": "white", "strokeWidth": 40, "strokeJoin": "round", "baseline": "middle", "dx": -20},
              "encoding": {
                "x": {"field": "Stufe", "type": "nominal", "title": null},
                "y": {"field": "labelY", "type": "quantitative", "title": "n-Alkane Massenkonzentration [µg/m³]"},
                "text": {"field": "total", "type": "quantitative", "format": ".2f"}
              }
            },
            {
              "data": {"name": "alkanes"},
              "transform": [{"filter": {"field": "panel", "equal": "WO"}}],
              "mark": {"type": "errorbar", "ticks": {"size": 6}, "rule": {"strokeWidth": 1.5}, "color": "#333333", "clip": true},
              "encoding": {
                "x": {"field": "Stufe", "type": "nominal", "title": null},
                "xOffset": {"field": "C", "type": "ordinal"},
                "y": {"field": "value", "type": "quantitative", "title": "n-Alkane Massenkonzentration [µg/m³]"},
                "yError": {"field": "sd"}
              }
            },
            {
              "data": {"name": "totals"},
              "transform": [{"filter": {"field": "panel", "equal": "WO"}}],
              "mark": {"type": "text", "font": "Liberation Serif", "fontSize": 42, "fill": "#111111", "baseline": "middle", "dx": -20},
              "encoding": {
                "x": {"field": "Stufe", "type": "nominal", "title": null},
                "y": {"field": "labelY", "type": "quantitative", "title": "n-Alkane Massenkonzentration [µg/m³]"},
                "text": {"field": "total", "type": "quantitative", "format": ".2f"}
              }
            },
            {
              "data": {"values": [{}]},
              "mark": {"type": "point", "shape": "M-1,-0.483H1V0.483H-1Z", "size": 42849, "filled": true, "fill": "#d5dfe9", "stroke": "#3c3c3c", "strokeWidth": 2, "opacity": 1, "fillOpacity": 1, "xOffset": 37},
              "encoding": {"x": {"datum": "Stufe 1", "type": "nominal", "title": null}, "y": {"datum": 1.866, "type": "quantitative", "title": "n-Alkane Massenkonzentration [µg/m³]"}}
            },
            {
              "data": {"values": [{}]},
              "mark": {"type": "text", "text": "WO", "font": "Liberation Sans", "fontSize": 60, "fill": "#111111", "baseline": "middle", "xOffset": 37},
              "encoding": {"x": {"datum": "Stufe 1", "type": "nominal", "title": null}, "y": {"datum": 1.866, "type": "quantitative", "title": "n-Alkane Massenkonzentration [µg/m³]"}}
            }
          ]
        },
        {
          "width": 909, "height": 589,
          "layer": [
            {
              "data": {"name": "alkanes"},
              "transform": [{"filter": {"field": "panel", "equal": "SO"}}],
              "mark": {"type": "bar"},
              "encoding": {
                "x": {"field": "Stufe", "type": "nominal", "title": null, "scale": {"paddingInner": 0, "paddingOuter": 0}, "axis": {"labels": true, "labelAngle": 0, "labelFont": "Liberation Serif", "labelFontSize": 40, "labelColor": "#111111", "labelPadding": 20, "labelOffset": -13, "tickBand": "extent", "tickSize": 10, "tickColor": "#9a9a9a", "tickWidth": 1.5, "domainColor": "#8a8a8a", "domainWidth": 2, "grid": false}},
                "xOffset": {"field": "C", "type": "ordinal", "scale": {"paddingInner": 0.38, "paddingOuter": 0.5, "align": 0.15}},
                "y": {"field": "value", "type": "quantitative", "title": null, "scale": {"domain": [0, 2.2], "nice": false}, "axis": {"values": [0,0.2,0.4,0.6,0.8,1,1.2,1.4,1.6,1.8,2,2.2], "format": "~g", "labelFont": "Liberation Serif", "labelFontSize": 14, "labelFontWeight": "bold", "labelColor": "#5a5a5a", "tickColor": "#bbbbbb", "tickSize": 9, "domainColor": "#8a8a8a", "domainWidth": 2, "grid": true, "gridColor": "#cfcfcf", "gridWidth": 2}},
                "color": {"field": "C", "type": "ordinal", "scale": {"domain": [18,19,20,21,22,23,24,25,26,27,28,29,30,31,32], "range": ["#a48c62","#58b482","#a48c62","#58b482","#a48c62","#58b482","#a48c62","#58b482","#a48c62","#58b482","#a48c62","#58b482","#a48c62","#58b482","#a48c62"]}, "legend": null}
              }
            },
            {
              "data": {"name": "totals"},
              "transform": [{"filter": {"field": "panel", "equal": "SO"}}],
              "mark": {"type": "text", "font": "Liberation Serif", "fontSize": 42, "fill": "white", "stroke": "white", "strokeWidth": 40, "strokeJoin": "round", "baseline": "middle", "dx": -20},
              "encoding": {
                "x": {"field": "Stufe", "type": "nominal", "title": null},
                "y": {"field": "labelY", "type": "quantitative", "title": null},
                "text": {"field": "total", "type": "quantitative", "format": ".2f"}
              }
            },
            {
              "data": {"name": "alkanes"},
              "transform": [{"filter": {"field": "panel", "equal": "SO"}}],
              "mark": {"type": "errorbar", "ticks": {"size": 6}, "rule": {"strokeWidth": 1.5}, "color": "#333333", "clip": true},
              "encoding": {
                "x": {"field": "Stufe", "type": "nominal", "title": null},
                "xOffset": {"field": "C", "type": "ordinal"},
                "y": {"field": "value", "type": "quantitative", "title": null},
                "yError": {"field": "sd"}
              }
            },
            {
              "data": {"name": "totals"},
              "transform": [{"filter": {"field": "panel", "equal": "SO"}}],
              "mark": {"type": "text", "font": "Liberation Serif", "fontSize": 42, "fill": "#111111", "baseline": "middle", "dx": -20},
              "encoding": {
                "x": {"field": "Stufe", "type": "nominal", "title": null},
                "y": {"field": "labelY", "type": "quantitative", "title": null},
                "text": {"field": "total", "type": "quantitative", "format": ".2f"}
              }
            },
            {
              "data": {"values": [{}]},
              "mark": {"type": "point", "shape": "M-1,-0.483H1V0.483H-1Z", "size": 42849, "filled": true, "fill": "#f6e5d2", "stroke": "#3c3c3c", "strokeWidth": 2, "opacity": 1, "fillOpacity": 1, "xOffset": 37},
              "encoding": {"x": {"datum": "Stufe 1", "type": "nominal", "title": null}, "y": {"datum": 1.913, "type": "quantitative", "title": null}}
            },
            {
              "data": {"values": [{}]},
              "mark": {"type": "text", "text": "SO", "font": "Liberation Sans", "fontSize": 60, "fill": "#111111", "baseline": "middle", "xOffset": 37},
              "encoding": {"x": {"datum": "Stufe 1", "type": "nominal", "title": null}, "y": {"datum": 1.913, "type": "quantitative", "title": null}}
            }
          ]
        }
      ]
    }
  ]
}
